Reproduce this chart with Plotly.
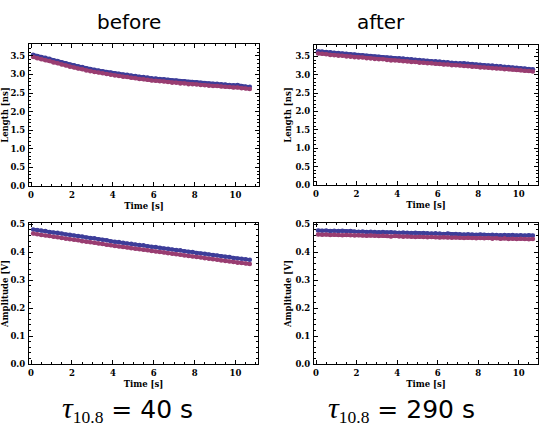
import plotly.graph_objects as go

# time axis (s)
time_s = [0.1, 0.3, 0.5, 0.7, 0.9, 1.1, 1.3, 1.5, 1.7, 1.9,
          2.1, 2.3, 2.5, 2.7, 2.9, 3.1, 3.3, 3.5, 3.7, 3.9,
          4.1, 4.3, 4.5, 4.7, 4.9, 5.1, 5.3, 5.5, 5.7, 5.9,
          6.1, 6.3, 6.5, 6.7, 6.9, 7.1, 7.3, 7.5, 7.7, 7.9,
          8.1, 8.3, 8.5, 8.7, 8.9, 9.1, 9.3, 9.5, 9.7, 9.9,
          10.1, 10.3, 10.5, 10.7]

# length [ns], before
len_before_blue = [3.53, 3.50, 3.47, 3.45, 3.42, 3.38, 3.36, 3.33, 3.30, 3.27,
                   3.25, 3.22, 3.20, 3.17, 3.15, 3.13, 3.11, 3.09, 3.07, 3.05,
                   3.03, 3.02, 3.00, 2.99, 2.97, 2.96, 2.94, 2.93, 2.92, 2.90,
                   2.89, 2.88, 2.87, 2.86, 2.84, 2.84, 2.82, 2.82, 2.80, 2.80,
                   2.79, 2.78, 2.77, 2.76, 2.75, 2.75, 2.74, 2.73, 2.72, 2.71,
                   2.72, 2.69, 2.68, 2.67]
len_before_red = [3.47, 3.44, 3.41, 3.38, 3.36, 3.32, 3.30, 3.27, 3.24, 3.21,
                  3.19, 3.16, 3.14, 3.11, 3.09, 3.07, 3.05, 3.03, 3.01, 2.99,
                  2.97, 2.96, 2.94, 2.93, 2.91, 2.90, 2.88, 2.87, 2.86, 2.84,
                  2.83, 2.82, 2.81, 2.80, 2.78, 2.78, 2.76, 2.76, 2.74, 2.74,
                  2.73, 2.72, 2.71, 2.70, 2.69, 2.69, 2.68, 2.67, 2.66, 2.65,
                  2.65, 2.63, 2.62, 2.61]

# length [ns], after
len_after_blue = [3.64, 3.63, 3.62, 3.61, 3.60, 3.59, 3.58, 3.57, 3.56, 3.55,
                  3.54, 3.53, 3.52, 3.51, 3.50, 3.49, 3.48, 3.47, 3.46, 3.45,
                  3.45, 3.44, 3.43, 3.42, 3.41, 3.40, 3.39, 3.38, 3.37, 3.37,
                  3.36, 3.35, 3.34, 3.33, 3.32, 3.31, 3.31, 3.30, 3.29, 3.28,
                  3.27, 3.26, 3.25, 3.25, 3.24, 3.23, 3.22, 3.21, 3.20, 3.19,
                  3.18, 3.17, 3.16, 3.15]
len_after_red = [3.58, 3.57, 3.56, 3.54, 3.53, 3.52, 3.52, 3.50, 3.49, 3.48,
                 3.47, 3.47, 3.45, 3.44, 3.43, 3.42, 3.42, 3.40, 3.39, 3.39,
                 3.38, 3.37, 3.36, 3.35, 3.35, 3.33, 3.33, 3.31, 3.31, 3.30,
                 3.29, 3.28, 3.28, 3.26, 3.26, 3.25, 3.24, 3.23, 3.22, 3.22,
                 3.20, 3.20, 3.19, 3.18, 3.17, 3.17, 3.15, 3.15, 3.14, 3.13,
                 3.12, 3.11, 3.10, 3.09]

# amplitude [V], before
amp_before_blue = [0.482, 0.480, 0.478, 0.476, 0.473, 0.471, 0.470, 0.467, 0.464, 0.463,
                   0.460, 0.458, 0.457, 0.453, 0.451, 0.450, 0.447, 0.445, 0.443, 0.440,
                   0.438, 0.437, 0.434, 0.432, 0.431, 0.428, 0.426, 0.425, 0.422, 0.420,
                   0.419, 0.416, 0.414, 0.413, 0.410, 0.408, 0.407, 0.404, 0.402, 0.401,
                   0.398, 0.396, 0.395, 0.392, 0.390, 0.389, 0.386, 0.384, 0.383, 0.380,
                   0.378, 0.377, 0.375, 0.373]
amp_before_red = [0.467, 0.465, 0.462, 0.460, 0.458, 0.456, 0.454, 0.451, 0.449, 0.447,
                  0.445, 0.443, 0.440, 0.438, 0.436, 0.434, 0.432, 0.430, 0.427, 0.425,
                  0.423, 0.421, 0.419, 0.417, 0.415, 0.413, 0.411, 0.409, 0.407, 0.405,
                  0.403, 0.401, 0.399, 0.397, 0.395, 0.393, 0.391, 0.389, 0.387, 0.385,
                  0.383, 0.381, 0.379, 0.377, 0.375, 0.373, 0.371, 0.369, 0.367, 0.365,
                  0.363, 0.362, 0.360, 0.358]

# amplitude [V], after
amp_after_blue = [0.478, 0.477, 0.478, 0.476, 0.477, 0.476, 0.477, 0.475, 0.476, 0.475,
                  0.474, 0.475, 0.473, 0.474, 0.473, 0.472, 0.473, 0.471, 0.472, 0.471,
                  0.470, 0.471, 0.470, 0.469, 0.470, 0.468, 0.469, 0.468, 0.467, 0.468,
                  0.467, 0.466, 0.467, 0.465, 0.466, 0.465, 0.464, 0.465, 0.464, 0.463,
                  0.464, 0.463, 0.462, 0.463, 0.462, 0.461, 0.462, 0.461, 0.462, 0.460,
                  0.461, 0.460, 0.461, 0.460]
amp_after_red = [0.464, 0.463, 0.464, 0.462, 0.463, 0.462, 0.461, 0.462, 0.461, 0.460,
                 0.461, 0.460, 0.459, 0.460, 0.459, 0.458, 0.459, 0.458, 0.457, 0.458,
                 0.457, 0.456, 0.457, 0.456, 0.455, 0.456, 0.455, 0.454, 0.455, 0.454,
                 0.453, 0.454, 0.453, 0.452, 0.453, 0.452, 0.451, 0.452, 0.451, 0.450,
                 0.451, 0.450, 0.451, 0.449, 0.450, 0.449, 0.450, 0.448, 0.449, 0.448,
                 0.449, 0.448, 0.447, 0.448]

BLUE = "rgb(61,61,153)"
RED = "rgb(153,61,113)"
W, H = 539, 429
TICKFONT = dict(family="DejaVu Serif", size=8.5, color="black", weight="bold")

# (blue, red, axis suffix, x px span, y px span, x range, y range, y title, y major, y minor)
panels = [
    (len_before_blue, len_before_red, "", (29, 259), (44, 186), [-0.1, 11.15], [0, 3.82], "Length [ns]", 0.5, 0.1),
    (len_after_blue, len_after_red, "2", (314, 538), (45, 185), [-0.1, 10.95], [0, 3.81], "Length [ns]", 0.5, 0.1),
    (amp_before_blue, amp_before_red, "3", (29, 258), (223, 364), [-0.1, 11.1], [0, 0.505], "Amplitude [V]", 0.1, 0.02),
    (amp_after_blue, amp_after_red, "4", (314, 538), (223, 364), [-0.1, 10.95], [0, 0.505], "Amplitude [V]", 0.1, 0.02),
]

fig = go.Figure()
layout = {}
for blue, red, s, xs, ys, xr, yr, ytitle, ymaj, ymin in panels:
    for vals, col in ((blue, BLUE), (red, RED)):
        fig.add_trace(go.Scatter(x=time_s, y=vals, mode="lines+markers", xaxis="x" + s, yaxis="y" + s,
                                 line=dict(color=col, width=3.5),
                                 marker=dict(color=col, size=4.5, line=dict(width=0)),
                                 showlegend=False))
    common = dict(showline=True, linecolor="black", linewidth=1.2, mirror="ticks",
                  ticks="inside", ticklen=3.5, tickwidth=1, tickcolor="black",
                  showgrid=False, zeroline=False, tickfont=TICKFONT, automargin=False)
    layout["xaxis" + s] = dict(common, domain=[xs[0] / W, xs[1] / W], range=xr, anchor="y" + s,
                               dtick=2, tick0=0, ticklabelstandoff=1,
                               minor=dict(dtick=0.5, ticks="inside", ticklen=2, tickcolor="black"),
                               title=dict(text="Time [s]", font=TICKFONT, standoff=3))
    layout["yaxis" + s] = dict(common, domain=[1 - ys[1] / H, 1 - ys[0] / H], range=yr, anchor="x" + s,
                               dtick=ymaj, tick0=0, tickformat=".1f", ticklabelstandoff=1,
                               minor=dict(dtick=ymin, ticks="inside", ticklen=2, tickcolor="black"),
                               title=dict(text=ytitle, font=TICKFONT, standoff=2))

fig.update_layout(**layout)

SANS = dict(family="DejaVu Sans", size=20, color="black")
for txt, xc in (("before", 129), ("after", 381)):
    fig.add_annotation(text=txt, x=xc / W, y=1 - 22 / H, xref="paper", yref="paper",
                       showarrow=False, font=SANS, xanchor="center", yanchor="middle")

for val, xc in (("40", 127), ("290", 401)):
    txt = ("<span style='font-family:Liberation Serif;font-size:30px'><i>τ</i></span>"
           "<span style='font-family:Liberation Serif;font-size:25px'><sub>10.8</sub></span>"
           " <span style='font-family:DejaVu Serif'>=</span> " + val + " s")
    fig.add_annotation(text=txt, x=xc / W, y=1 - 409 / H, xref="paper", yref="paper",
                       showarrow=False, font=dict(family="DejaVu Sans", size=25, color="black"),
                       xanchor="center", yanchor="middle")

fig.update_layout(width=W, height=H, margin=dict(l=0, r=0, t=0, b=0),
                  paper_bgcolor="white", plot_bgcolor="white")
fig.write_html("out.html", config={"displayModeBar": False},
               post_script="document.body.style.margin='0';")
